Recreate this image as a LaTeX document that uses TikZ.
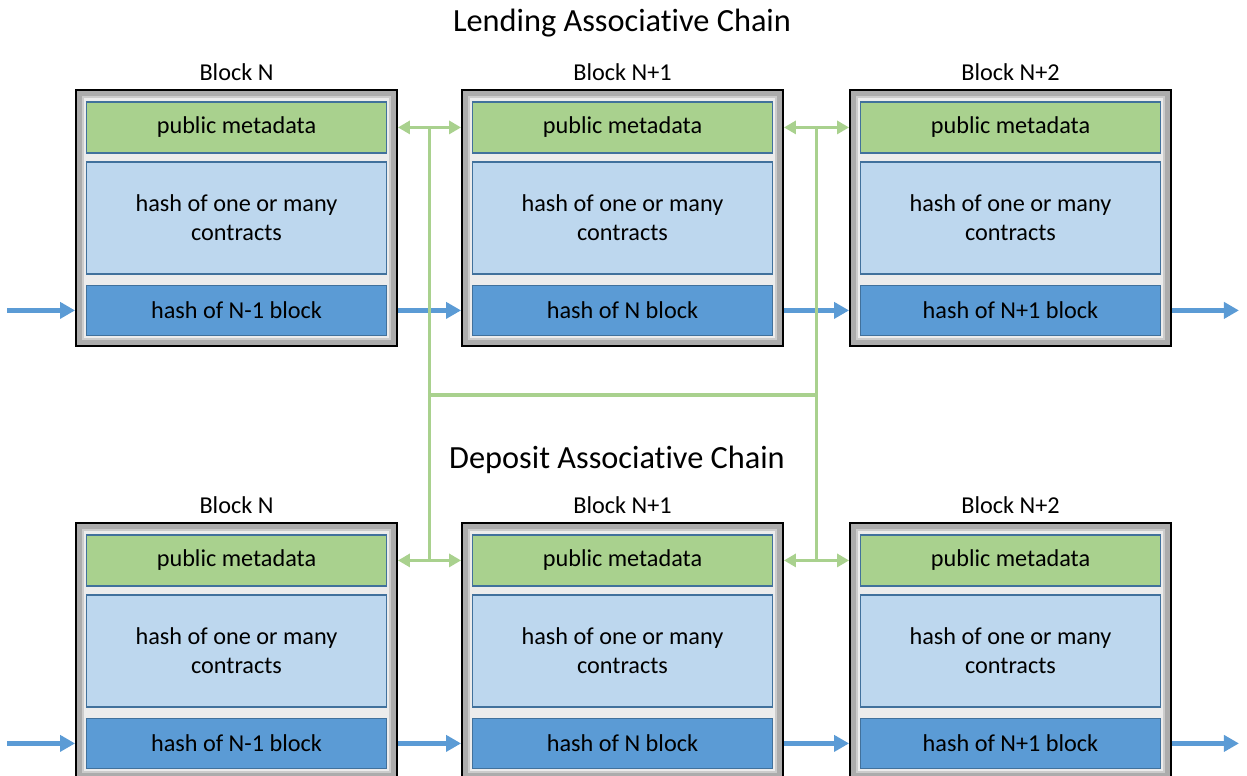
\documentclass[tikz,border=0pt]{standalone}
\usepackage{fontspec}
\setmainfont{Carlito}[Ligatures=NoCommon]
\usetikzlibrary{positioning,arrows.meta,calc}
\definecolor{metagreen}{HTML}{A9D18E}
\definecolor{contractblue}{HTML}{BDD7EE}
\definecolor{hashblue}{HTML}{5B9BD5}
\definecolor{edgeblue}{HTML}{41719C}
\begin{document}
\begin{tikzpicture}[x=0.02cm,y=-0.02cm,font=\fontsize{13.8}{17}\selectfont]
\tikzstyle{title} = [font=\fontsize{18.4}{22}\selectfont]
\tikzstyle{frame} = [draw=black, line width=1.1pt, fill=gray!65, minimum width=6.42cm, minimum height=5.12cm, inner sep=0pt]
\tikzstyle{base} = [fill=gray!15, draw=gray!40, line width=1.2pt, minimum width=6.14cm, minimum height=4.84cm, inner sep=0pt]
\tikzstyle{part} = [draw=edgeblue, line width=1pt, minimum width=6cm, inner sep=0pt, align=center]
\tikzstyle{meta} = [part, fill=metagreen, minimum height=1.02cm]
\tikzstyle{contracts} = [part, fill=contractblue, minimum height=2.24cm]
\tikzstyle{hash} = [part, fill=hashblue, minimum height=1.0cm]
\tikzstyle{chain} = [hashblue, line width=2.5pt, -{Triangle[length=0.3cm,width=0.32cm]}]
\tikzstyle{link} = [metagreen, line width=2pt, {Triangle[length=0.24cm,width=0.26cm]}-{Triangle[length=0.24cm,width=0.26cm]}]
\tikzstyle{bus} = [metagreen, line width=2.2pt]
%
\useasboundingbox (0,0) rectangle (1247,776);
\node[title] (t1) at (622,23) {Lending Associative Chain};
\node[title] (t2) at (617,460) {Deposit Associative Chain};
\foreach \r/\y in {1/218,2/651}{
\foreach \c/\x/\n/\p in {1/236.5/N/N-1,2/622.5/N+1/N,3/1010.5/N+2/N+1}{
\node[frame] (f\r\c) at (\x,\y) {};
\node[base] (g\r\c) at (f\r\c) {};
\node[above=0.05cm of f\r\c] (l\r\c) {Block \n};
\node[meta,below=0.24cm of f\r\c.north] (m\r\c) {public metadata};
\node[contracts,below=0.14cm of m\r\c] (c\r\c) {hash of one or many\\contracts};
\node[hash,below=0.2cm of c\r\c] (h\r\c) {hash of \p\ block};
}}
%
\coordinate (mid) at (622,395);
\foreach \r in {1,2}{
\coordinate (s\r) at ($(f\r1.west |- h\r1)+(-68,0)$);
\coordinate (e\r) at ($(f\r3.east |- h\r3)+(67,0)$);
\draw[chain] (s\r) -- (f\r1.west |- h\r1);
\draw[chain] (f\r1.east |- h\r1) -- (f\r2.west |- h\r2);
\draw[chain] (f\r2.east |- h\r2) -- (f\r3.west |- h\r3);
\draw[chain] (f\r3.east |- h\r3) -- (e\r);
\draw[link] (f\r1.east |- m\r1) -- coordinate[midway] (j\r1) (f\r2.west |- m\r2);
\draw[link] (f\r2.east |- m\r2) -- coordinate[midway] (j\r2) (f\r3.west |- m\r3);
}
\draw[bus] (j11) -- (j21);
\draw[bus] (j12) -- (j22);
\draw[bus] (j11 |- mid) -- (j12 |- mid);
\end{tikzpicture}
\end{document}
